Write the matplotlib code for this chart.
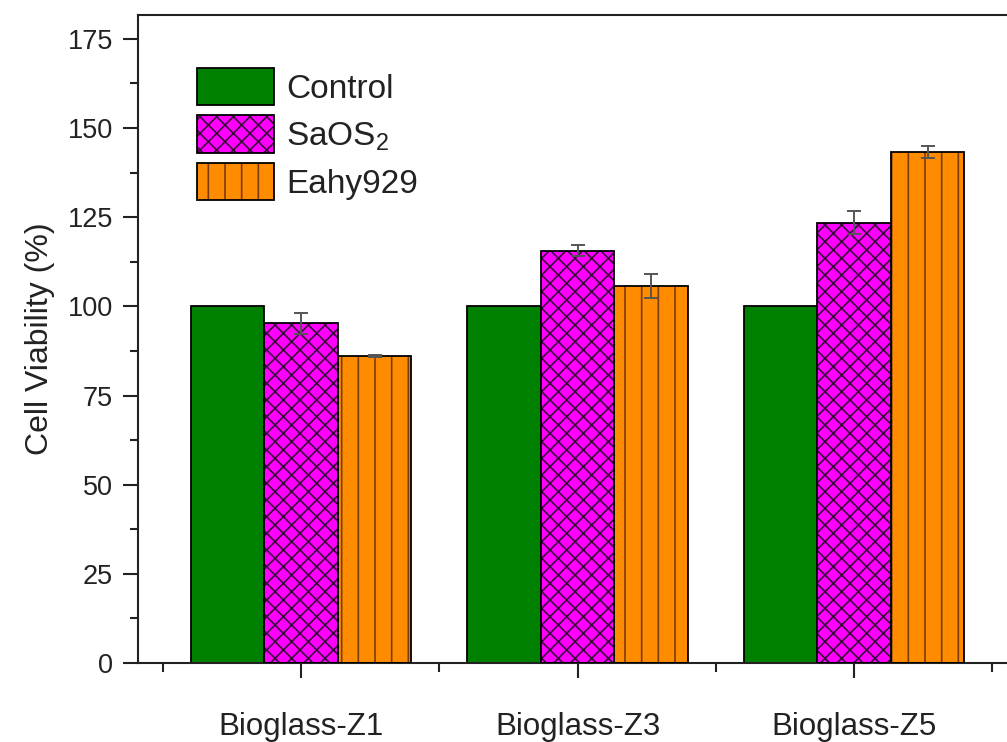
import numpy as np
import matplotlib
matplotlib.use("Agg")
import matplotlib.pyplot as plt
from matplotlib.patches import Patch
from matplotlib.legend_handler import HandlerTuple

plt.rcParams['font.family'] = ['Liberation Sans', 'DejaVu Sans']
plt.rcParams['mathtext.fontset'] = 'custom'
plt.rcParams['mathtext.rm'] = 'Liberation Sans'
plt.rcParams['hatch.linewidth'] = 1.2

# Data
categories = ["Bioglass-Z1", "Bioglass-Z3", "Bioglass-Z5"]
series_names = ["Control", "SaOS$_\\mathregular{2}$", "Eahy929"]
control = [100, 100, 100]
saos2 = [95.2, 115.6, 123.5]
eahy929 = [86.1, 105.8, 143.2]
saos2_err = [3.0, 1.6, 3.3]
eahy929_err = [0.2, 3.4, 1.7]
y_ticks = [0, 25, 50, 75, 100, 125, 150, 175]

values = [control, saos2, eahy929]
errors = [None, saos2_err, eahy929_err]
faces = ["#008000", "#FF00FF", "#FF8C00"]
hatch_colors = [None, "#3a0a3a", "#7a3c0c"]
hatches = [None, "xx", "|"]

fig = plt.figure(figsize=(10.07, 7.42), dpi=100)
ax = fig.add_axes([138/1007, 79/742, 882/1007, 648/742])

x = np.arange(1, len(categories) + 1)
width = 0.266
offsets = [-width, 0, width]

for vals, err, fc, hc, h, off in zip(values, errors, faces, hatch_colors, hatches, offsets):
    if h is None:
        ax.bar(x + off, vals, width, color=fc, edgecolor="black", linewidth=1.3, zorder=2)
    else:
        ax.bar(x + off, vals, width, color=fc, edgecolor=hc, hatch=h, linewidth=0, zorder=2)
        ax.bar(x + off, vals, width, fill=False, edgecolor="black", linewidth=1.3, zorder=3)
    if err is not None:
        ax.errorbar(x + off, vals, yerr=err, fmt="none", ecolor="#555555",
                    elinewidth=1.4, capsize=4.8, capthick=1.4, zorder=4)

ax.set_xlim(0.41, 3.6)
ax.set_ylim(0, 181.7)
ax.set_yticks(y_ticks)
ax.set_yticks(np.arange(12.5, 180, 25), minor=True)
ax.set_xticks(x)
ax.set_xticklabels(categories)
ax.set_xticks([0.5, 1.5, 2.5, 3.5], minor=True)

for s in ax.spines.values():
    s.set_linewidth(1.5)
    s.set_color("#222222")

ax.tick_params(axis="y", which="major", direction="out", length=11, width=1.5,
               labelsize=19.5, pad=7, colors="#222222")
ax.tick_params(axis="y", which="minor", direction="out", length=6, width=1.5, colors="#222222")
ax.tick_params(axis="x", which="major", direction="out", length=11, width=1.5,
               labelsize=22.5, pad=24, colors="#222222")
ax.tick_params(axis="x", which="minor", direction="out", length=6.5, width=1.5, colors="#222222")

ax.set_ylabel("Cell Viability (%)", fontsize=23, color="#222222", labelpad=9)

# Legend with hatched handles and black outlines
handles = []
for fc, hc, h in zip(faces, hatch_colors, hatches):
    if h is None:
        handles.append(Patch(facecolor=fc, edgecolor="black", linewidth=1.3))
    else:
        handles.append((Patch(facecolor=fc, edgecolor=hc, hatch=h, linewidth=0),
                        Patch(fill=False, edgecolor="black", linewidth=1.3)))
leg = ax.legend(handles, series_names, loc="upper left",
                bbox_to_anchor=(197/1007, 1 - 68/742), bbox_transform=fig.transFigure,
                frameon=False, fontsize=24, handlelength=2.32, handleheight=1.35,
                handletextpad=0.36, labelspacing=0.3, borderpad=0, borderaxespad=0,
                handler_map={tuple: HandlerTuple(ndivide=1)})
for t in leg.get_texts():
    t.set_color("#222222")

fig.savefig("out.png", dpi=100)
